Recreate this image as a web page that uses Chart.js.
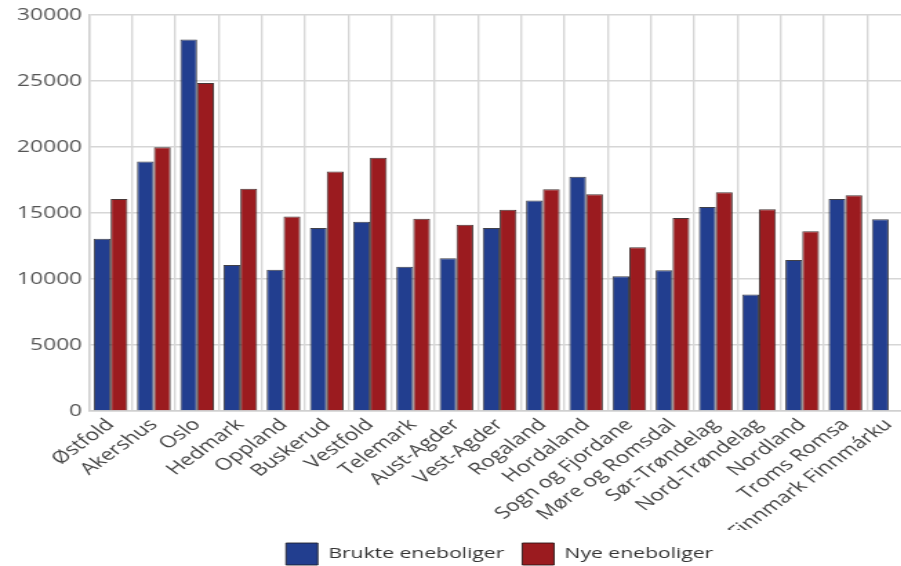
<!DOCTYPE html>
<html>
<head>
<meta charset="utf-8">
<script src="https://cdn.jsdelivr.net/npm/chart.js@4.4.1/dist/chart.umd.min.js"></script>
<style>
  html, body { margin: 0; padding: 0; background: #fff; width: 901px; height: 566px; overflow: hidden; }
  /* the chart is drawn narrow and widened horizontally */
  #wrap { position: absolute; left: 0; top: 0; width: 662px; height: 575px; transform: scaleX(1.38); transform-origin: 0 0; }
  canvas { display: block; }
</style>
</head>
<body>
<div id="wrap"><canvas id="chart" width="662" height="575"></canvas></div>
<script>
// Fylker (counties)
const fylker = [
  "Østfold", "Akershus", "Oslo", "Hedmark", "Oppland", "Buskerud", "Vestfold",
  "Telemark", "Aust-Agder", "Vest-Agder", "Rogaland", "Hordaland", "Sogn og Fjordane",
  "Møre og Romsdal", "Sør-Trøndelag", "Nord-Trøndelag", "Nordland", "Troms Romsa",
  "Finnmark Finnmárku"
];

// Brukte eneboliger (used detached houses)
const brukte = [
  13050, 18900, 28130, 11050, 10700, 13860, 14340, 10920, 11560, 13860,
  15950, 17740, 10200, 10660, 15460, 8830, 11430, 16050, 14520
];

// Nye eneboliger (new detached houses); no value for Finnmark
const nye = [
  16050, 19970, 24840, 16830, 14730, 18130, 19190, 14570, 14110, 15240,
  16790, 16410, 12400, 14620, 16560, 15280, 13620, 16350, null
];

const yMax = 30000;
const yStep = 5000;

const fontFamily = "'Open Sans', 'Noto Sans', sans-serif";

new Chart(document.getElementById('chart'), {
  type: 'bar',
  data: {
    labels: fylker,
    datasets: [
      {
        label: 'Brukte eneboliger',
        data: brukte,
        backgroundColor: '#223e8f',
        borderColor: 'rgba(30,30,40,0.85)',
        borderWidth: 1
      },
      {
        label: 'Nye eneboliger',
        data: nye,
        backgroundColor: '#9b1b1f',
        borderColor: 'rgba(40,20,20,0.85)',
        borderWidth: 1
      }
    ]
  },
  options: {
    responsive: false,
    animation: false,
    devicePixelRatio: 1,
    layout: { padding: { top: 13.8, right: 2, left: 0, bottom: 0 } },
    datasets: {
      bar: { categoryPercentage: 0.78, barPercentage: 1.0 }
    },
    scales: {
      x: {
        grid: { color: '#d6d6d6', lineWidth: 1.4, offset: true, drawTicks: false },
        border: { color: '#d0d0d0', width: 1.4 },
        ticks: {
          autoSkip: false,
          maxRotation: 45,
          minRotation: 45,
          padding: 4,
          color: '#444',
          font: { family: fontFamily, size: 16.5 }
        },
        afterFit(scale) { scale.height = 119; }
      },
      y: {
        min: 0,
        max: yMax,
        grid: { color: '#d6d6d6', lineWidth: 1.6, drawTicks: false },
        border: { color: '#d0d0d0', width: 1.4 },
        ticks: {
          stepSize: yStep,
          padding: 5,
          color: '#555',
          font: { family: fontFamily, size: 16.5 },
          callback: (value) => String(value)
        },
        afterFit(scale) { scale.width = 64.5; }
      }
    },
    plugins: {
      legend: {
        position: 'bottom',
        fullSize: false,
        labels: {
          boxWidth: 23,
          boxHeight: 22,
          padding: 13,
          color: '#333',
          font: { family: fontFamily, size: 15.3 }
        }
      },
      tooltip: { enabled: false }
    }
  }
});
</script>
</body>
</html>
